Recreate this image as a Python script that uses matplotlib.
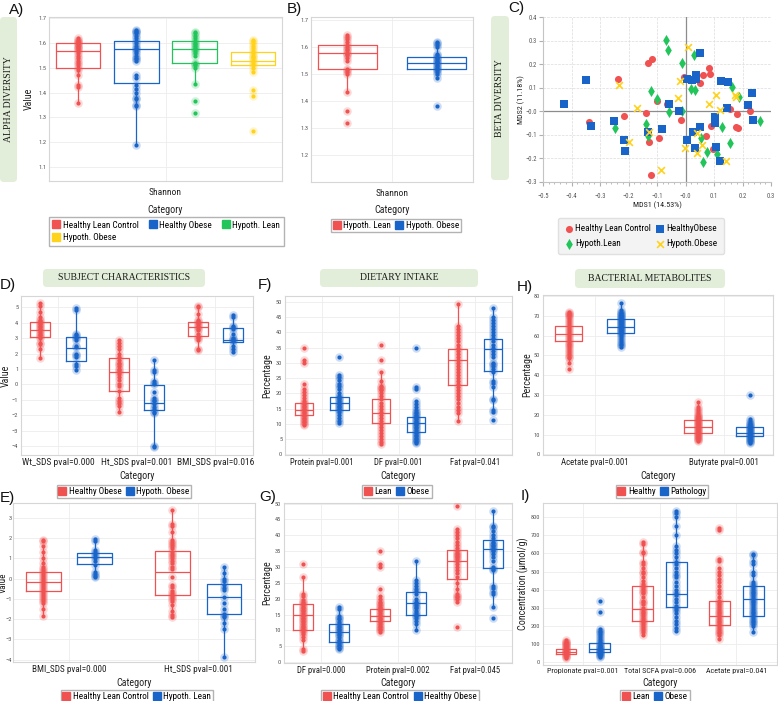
import numpy as np
import matplotlib
matplotlib.use('Agg')
import matplotlib.pyplot as plt
from matplotlib.lines import Line2D
from matplotlib.patches import FancyBboxPatch
from matplotlib.ticker import FuncFormatter, MultipleLocator

W, H = 778, 701
RED = '#f05252'
BLUE = '#1864c8'
GREEN = '#22c55a'
YELLOW = '#ffd21c'
NARROW = ['Roboto Condensed', 'Liberation Sans Narrow', 'Roboto', 'DejaVu Sans']
SERIF = ['Liberation Serif', 'DejaVu Serif']

plt.rcParams['font.family'] = NARROW

# ---------------- data ----------------
# A) alpha diversity, Shannon index
alpha_groups = ['Healthy Lean Control', 'Healthy Obese', 'Hypoth. Lean', 'Hypoth. Obese']
alpha_hlc = [1.62, 1.615, 1.61, 1.605, 1.60, 1.595, 1.59, 1.585, 1.58, 1.575, 1.57, 1.56,
             1.55, 1.54, 1.53, 1.52, 1.51, 1.50, 1.49, 1.47, 1.43, 1.425, 1.36]
alpha_ho = [1.655, 1.65, 1.645, 1.64, 1.63, 1.62, 1.61, 1.60, 1.59, 1.58, 1.575, 1.57, 1.56,
            1.55, 1.54, 1.535, 1.53, 1.47, 1.46, 1.43, 1.415, 1.40, 1.38, 1.375, 1.35, 1.345, 1.19]
alpha_hl = [1.645, 1.64, 1.63, 1.62, 1.61, 1.60, 1.595, 1.59, 1.58, 1.575, 1.57, 1.56, 1.55,
            1.52, 1.515, 1.51, 1.50, 1.435, 1.365, 1.318]
alpha_hob = [1.615, 1.61, 1.60, 1.59, 1.58, 1.57, 1.56, 1.55, 1.545, 1.54, 1.53, 1.52, 1.51,
             1.50, 1.485, 1.41, 1.385, 1.245]
alpha_box = [(1.50, 1.567, 1.60), (1.44, 1.577, 1.61), (1.52, 1.578, 1.607), (1.51, 1.527, 1.565)]

# B) hypothyroid lean vs obese
hyp_groups = ['Hypoth. Lean', 'Hypoth. Obese']
hyp_obese = [1.62, 1.615, 1.61, 1.60, 1.575, 1.57, 1.565, 1.56, 1.555, 1.55, 1.545, 1.54,
             1.535, 1.53, 1.525, 1.52, 1.515, 1.51, 1.50, 1.485, 1.383]
hyp_box = [(1.52, 1.578, 1.607), (1.52, 1.54, 1.565)]

# C) beta diversity (MDS)
hlc_x = [-0.133, -0.119, -0.236, -0.215, -0.338, -0.140, -0.099, -0.066, -0.127, -0.093, -0.122,
         -0.015, -0.007, 0.052, 0.060, 0.081, 0.085, 0.089, 0.071, 0.095, 0.155, 0.180, 0.177,
         0.183, 0.226, 0.031]
hlc_y = [0.204, 0.221, 0.137, -0.020, -0.047, -0.009, 0.045, 0.031, -0.130, -0.113, -0.272,
         -0.035, 0.145, 0.122, 0.154, 0.182, 0.158, -0.061, -0.104, -0.161, 0.009, -0.013, -0.066,
         -0.073, 0.001, 0.137]
ho_x = [-0.427, -0.350, -0.333, -0.251, -0.216, -0.211, -0.133, -0.084, -0.058, -0.022, 0.004,
        0.004, 0.023, 0.037, 0.037, 0.028, 0.034, 0.052, 0.052, 0.104, 0.104, 0.108, 0.121, 0.123,
        0.149, 0.145, 0.219, 0.232, 0.238]
ho_y = [0.029, 0.134, -0.063, -0.042, -0.121, -0.168, -0.087, -0.077, 0.031, 0.002, -0.120,
        0.137, 0.133, 0.136, 0.154, -0.087, -0.154, -0.066, 0.249, -0.023, -0.048, -0.151, -0.212,
        0.130, 0.123, 0.012, 0.026, 0.079, -0.038]
hl_x = [-0.070, -0.062, -0.012, 0.031, -0.121, -0.101, -0.248, -0.140, -0.131, -0.059, -0.014,
        0.020, 0.032, 0.056, 0.077, 0.063, 0.110, 0.128, 0.156, 0.162, 0.186, 0.262]
hl_y = [0.301, 0.261, 0.204, 0.240, 0.087, 0.053, -0.073, -0.052, -0.106, -0.003, 0.001, 0.095,
        0.091, -0.115, -0.172, -0.215, -0.180, -0.066, -0.136, 0.102, 0.062, -0.040]
hob_x = [-0.234, -0.171, -0.199, -0.128, -0.087, -0.026, -0.019, 0.008, -0.001, 0.042, 0.040,
         0.057, 0.083, 0.107, 0.122, 0.143, 0.172, 0.178]
hob_y = [0.110, 0.016, -0.130, -0.087, -0.251, 0.055, 0.129, 0.273, -0.154, -0.094, -0.177,
         -0.144, 0.033, 0.071, 0.005, -0.209, 0.069, 0.062]

# D) subject characteristics, healthy obese vs hypoth. obese
d_cats = ['Wt_SDS pval=0.000', 'Ht_SDS pval=0.001', 'BMI_SDS pval=0.016']
d_groups = ['Healthy Obese', 'Hypoth. Obese']
d_red = [[5.3, 5.1, 4.7, 4.4, 4.2, 4.1, 4.0, 3.9, 3.8, 3.7, 3.6, 3.5, 3.4, 3.3, 3.2, 3.1, 3.0, 2.7, 2.6, 2.3, 1.7],
         [2.85, 2.7, 2.5, 2.3, 2.0, 1.8, 1.6, 1.4, 1.3, 1.2, 1.0, 0.9, 0.8, 0.7, 0.5, 0.3, 0.0, -0.1, -0.4,
          -0.9, -1.1, -1.2, -1.4, -1.8],
         [5.1, 5.0, 4.6, 4.2, 4.1, 4.0, 3.9, 3.8, 3.7, 3.6, 3.5, 3.3, 3.1, 3.0, 2.9, 2.3, 2.25]]
d_blue = [[4.95, 4.85, 3.25, 3.2, 3.1, 3.0, 2.9, 2.5, 2.4, 2.0, 1.9, 1.8, 1.3, 1.2, 0.95],
          [1.6, 0.9, 0.8, 0.2, 0.1, 0.0, -0.5, -0.9, -1.0, -1.1, -1.3, -1.5, -1.6, -1.8, -1.85, -4.0, -4.05],
          [4.5, 4.4, 3.8, 3.7, 3.6, 3.3, 3.0, 2.95, 2.9, 2.8, 2.5, 2.3, 2.1]]
d_box_red = [(3.05, 3.53, 4.03), (-0.43, 0.80, 1.69), (3.16, 3.74, 4.03)]
d_box_blue = [(1.51, 2.34, 3.10), (-1.67, -1.23, -0.04), (2.73, 2.88, 3.64)]

# E) healthy lean control vs hypoth. lean
e_cats = ['BMI_SDS pval=0.000', 'Ht_SDS pval=0.001']
e_groups = ['Healthy Lean Control', 'Hypoth. Lean']
e_red = [[1.9, 1.85, 1.6, 1.3, 1.0, 0.8, 0.6, 0.5, 0.4, 0.3, 0.2, 0.1, 0.0, -0.1, -0.2, -0.3, -0.4,
          -0.5, -0.6, -0.7, -0.8, -0.9, -1.0, -1.1, -1.2, -1.5, -1.85],
         [3.4, 2.7, 2.6, 2.3, 1.9, 1.8, 1.7, 1.6, 1.5, 1.3, 1.2, 1.1, 1.0, 0.9, 0.8, 0.6, 0.5, 0.1, -0.3,
          -0.4, -0.6, -0.7, -0.8, -0.9, -1.0, -1.1, -1.3, -1.6, -1.8, -1.9]]
e_blue = [[1.95, 1.85, 1.4, 1.3, 1.2, 1.1, 1.0, 0.9, 0.7, 0.35, 0.25, 0.15, 0.1],
          [0.6, 0.3, 0.0, -0.1, -0.3, -0.45, -0.55, -0.9, -1.2, -1.5, -1.75, -1.85, -1.9, -2.2, -2.5, -3.85]]
e_box_red = [(-0.61, -0.18, 0.32), (-0.81, 0.32, 1.39)]
e_box_blue = [(0.73, 1.05, 1.29), (-1.75, -0.92, -0.26)]

# F) dietary intake, lean vs obese
f_cats = ['Protein pval=0.001', 'DF pval=0.001', 'Fat pval=0.041']
f_groups = ['Lean', 'Obese']
f_red = [[35, 31, 30, 23.2, 21.5, 20.5, 19.5, 18.5, 17.5, 17, 16.5, 16, 15.5, 15, 14.5, 14, 13.5, 13,
          12.5, 12, 11.5, 11, 10.5, 10, 9.5],
         [36, 31, 27, 24, 22.5, 22, 21.5, 21, 20, 19, 18, 17, 16, 15, 14, 13, 12, 11, 10, 9, 8, 7, 6, 5,
          4, 3.5],
         [49.3, 42, 41, 40, 39, 38, 37, 36, 35, 34, 33, 32, 31, 30, 29, 28, 27, 26, 25, 24, 23, 22, 21,
          20, 19, 18, 17, 15.5, 14.5, 13.5, 11]]
f_blue = [[32, 26, 25.5, 24.5, 23, 22.5, 21.5, 20, 19, 18.5, 18, 17.5, 17, 16.5, 16, 15.5, 15, 14.5,
           14, 13, 12, 11, 10.2],
          [35, 22, 21.5, 17.5, 16.5, 15.5, 14.5, 14, 13.5, 13, 12.5, 12, 11.5, 11, 10.5, 10, 9.5, 9,
           8.5, 8, 7.5, 7, 6.5, 6, 5.5, 5, 4.5, 4, 3.8],
          [48, 45, 44, 43, 42, 41, 40, 39, 38, 37, 36, 35, 34, 33, 32, 30, 29.5, 29, 28, 27, 24, 23.5,
           22, 18.2, 17.8, 14.5, 13.8, 11.2]]
f_box_red = [(12.8, 14.7, 16.7), (10.2, 13.6, 18.0), (22.7, 30.8, 34.5)]
f_box_blue = [(14.5, 17.0, 18.9), (7.4, 10.4, 12.3), (27.3, 34.4, 37.9)]

# G) healthy lean control vs healthy obese
g_cats = ['DF pval=0.000', 'Protein pval=0.002', 'Fat pval=0.045']
g_groups = ['Healthy Lean Control', 'Healthy Obese']
g_red = [[31, 27, 21.5, 21, 19.5, 19, 18.5, 18, 17.5, 17, 16.5, 16, 15.5, 15, 14.5, 14, 13.5, 13,
          12.5, 12, 11.5, 11, 10.5, 10, 9.5, 9, 8, 7, 4, 3.5],
         [35, 31, 30, 23.2, 21, 20, 19, 18.5, 18, 17.5, 17, 16.5, 16, 15.5, 15, 14.5, 14, 13.5, 13,
          12.5, 12, 11.5, 11, 10.5, 10, 9.5],
         [49.3, 42, 41, 40, 39, 38, 37, 36, 35, 34.5, 34, 33.5, 33, 32.5, 32, 31, 30, 29, 28, 27, 25,
          23, 21.5, 21, 20.5, 20, 19, 11]]
g_blue = [[17.5, 16.8, 14.5, 14, 13.5, 12.5, 12, 11.5, 11, 10.5, 10, 9.5, 9, 8.5, 8, 7, 6.5, 6, 5.5,
           5, 4.5, 4.2],
          [32, 26, 25, 24, 23, 22.5, 21.5, 20, 19, 18.5, 18, 17.5, 17, 16, 15.5, 15, 14.5, 14, 13, 12,
           10.2],
          [47.8, 43, 42.5, 41.5, 40, 39, 38, 37.5, 37, 36.5, 36, 35.5, 35, 34, 33, 32, 30, 29.5, 29, 24,
           23.5, 22, 21.5, 17.5, 13.8]]
g_box_red = [(10.2, 14.7, 18.2), (12.9, 14.4, 16.7), (26.1, 32.0, 35.3)]
g_box_blue = [(6.4, 9.6, 11.9), (15.0, 18.6, 22.0), (29.8, 35.8, 38.5)]

# H) bacterial metabolites, healthy vs pathology
h_cats = ['Acetate pval=0.001', 'Butyrate pval=0.001']
h_groups = ['Healthy', 'Pathology']
h_red = [[72, 71.5, 71, 70.5, 70, 69, 68, 67, 66, 65, 64, 63, 62, 61, 60, 59, 58, 57, 56, 55, 54, 53,
          52, 51, 50, 49, 48.5, 46, 43],
         [26.5, 24, 23, 22, 21, 20, 19.5, 19, 18.5, 18, 17.5, 17, 16.5, 16, 15.5, 15, 14.5, 14, 13.5,
          13, 12.5, 12, 11.5, 11, 10.5, 10, 9.5, 9, 8.5, 8, 7.5, 7]]
h_blue = [[76.5, 73, 72, 71.5, 71, 70.5, 70, 69.5, 69, 68.5, 68, 67.5, 67, 66.5, 66, 65.5, 65, 64.5,
           64, 63.5, 63, 62.5, 62, 61.5, 61, 60, 59, 58, 57, 56, 55, 54],
          [29.8, 18, 17, 16, 15.5, 15, 14.5, 14, 13.5, 13, 12.5, 12, 11.5, 11, 10.5, 10, 9.5, 9, 8.5,
           8, 7.5, 7, 6.5, 6]]
h_box_red = [(57.4, 60.6, 65.0), (11.0, 13.8, 17.4)]
h_box_blue = [(61.2, 64.5, 68.4), (9.5, 11.0, 14.0)]

# I) SCFA concentrations, lean vs obese
i_cats = ['Propionate pval=0.001', 'Total SCFA pval=0.006', 'Acetate pval=0.041']
i_groups = ['Lean', 'Obese']
i_red = [[125, 115, 110, 105, 100, 95, 90, 85, 80, 75, 70, 65, 60, 55, 50, 45, 40, 35, 30, 25],
         [665, 650, 610, 600, 550, 540, 520, 500, 490, 470, 450, 430, 420, 410, 400, 390, 380, 360, 340,
          330, 320, 300, 290, 280, 270, 260, 250, 240, 230, 220, 210, 200, 190, 180, 165, 150],
         [740, 730, 570, 560, 520, 500, 480, 460, 440, 420, 400, 380, 360, 340, 330, 320, 310, 300, 290,
          280, 270, 260, 250, 240, 230, 220, 210, 200, 190, 180, 170, 160, 150, 130]]
i_blue = [[340, 275, 185, 175, 165, 155, 145, 135, 125, 115, 105, 95, 90, 85, 80, 75, 70, 65, 60, 55,
           50, 45, 40, 35, 30],
          [835, 820, 800, 750, 700, 640, 620, 600, 580, 550, 540, 520, 500, 480, 470, 440, 420, 400, 380,
           370, 350, 330, 310, 300, 290, 270, 250, 230, 210, 190, 175],
          [595, 590, 560, 540, 500, 480, 440, 430, 420, 410, 400, 390, 380, 370, 360, 350, 340, 330, 320,
           310, 300, 290, 280, 270, 260, 250, 240, 230, 220, 210, 200, 170]]
i_box_red = [(44, 59, 74), (230, 293, 421), (208, 258, 340)]
i_box_blue = [(59, 72, 105), (304, 377, 552), (256, 348, 423)]

# ---------------- figure helpers ----------------
fig = plt.figure(figsize=(W / 100, H / 100), dpi=100)

TICK = 6.4
LEG = 6.6


def axes_at(x0, y0, x1, y1):
    ax = fig.add_axes([x0 / W, 1 - y1 / H, (x1 - x0) / W, (y1 - y0) / H])
    ax.rect_px = (x0, y0, x1, y1)
    return ax


def style(ax):
    for s in ax.spines.values():
        s.set_color('#d6d6d6')
        s.set_linewidth(0.8)
    ax.grid(color='#ececec', lw=0.6)
    ax.set_axisbelow(True)
    ax.tick_params(length=0, labelsize=4.6, labelcolor='#555555')
    ax.tick_params(axis='y', pad=2)


def put_labels(ax, xlabel, xlab_y, ylabel=None, ylab_x=None, size=7.2):
    x0, y0, x1, y1 = ax.rect_px
    ax.set_xlabel(xlabel, fontsize=7.2, color='#222222')
    ax.xaxis.set_label_coords(0.5, -(xlab_y - y1) / (y1 - y0))
    ax.xaxis.label.set_va('center')
    if ylabel:
        ax.set_ylabel(ylabel, fontsize=size, color='#222222')
        ax.yaxis.set_label_coords(-(x0 - ylab_x) / (x1 - x0), 0.5)
        ax.yaxis.label.set_va('center')
        ax.yaxis.label.set_ha('center')


def box_panel(ax, cats, pts, quart, colors, offs, width, pad, tick=TICK):
    for g, color in enumerate(colors):
        stats = []
        for c in range(len(cats)):
            vals = np.asarray(pts[g][c], dtype=float)
            q1, med, q3 = quart[g][c]
            lo, hi = q1 - 1.5 * (q3 - q1), q3 + 1.5 * (q3 - q1)
            inside = vals[(vals >= lo) & (vals <= hi)]
            stats.append({'q1': q1, 'med': med, 'q3': q3, 'fliers': [],
                          'whislo': min(inside.min(), q1), 'whishi': max(inside.max(), q3)})
            xs = np.full(len(vals), c + offs[g])
            ax.scatter(xs, vals, s=38, color=color, alpha=0.22, lw=0, zorder=3)
            ax.scatter(xs, vals, s=9, color=color, lw=0, zorder=4)
        line = {'color': color, 'lw': 0.9}
        ax.bxp(stats, positions=np.arange(len(cats)) + offs[g], widths=width,
               showcaps=False, showfliers=False, boxprops=line, whiskerprops=line,
               medianprops=line, manage_ticks=False, zorder=2)
    ax.set_xticks(np.arange(len(cats)))
    ax.set_xticklabels(cats, fontsize=tick, color='#222222')
    ax.tick_params(axis='x', pad=pad)


def add_legend(labels, colors, cx, top, ncol=2):
    handles = [Line2D([], [], ls='', marker='s', markersize=6.3, color=c) for c in colors]
    leg = fig.legend(handles, labels, loc='upper center', bbox_to_anchor=(cx / W, 1 - top / H),
                     ncol=ncol, fontsize=LEG, frameon=True, fancybox=False, edgecolor='#a0a0a0',
                     handlelength=0.8, handletextpad=0.3, columnspacing=0.5, borderpad=0.22,
                     labelspacing=0.35, borderaxespad=0)
    leg.get_frame().set_linewidth(1.0)
    return leg


def title_box(x0, y0, x1, y1, text, rot=0):
    box = FancyBboxPatch((x0 / 100, (H - y1) / 100), (x1 - x0) / 100, (y1 - y0) / 100,
                         boxstyle='round,pad=0,rounding_size=0.04', transform=fig.dpi_scale_trans,
                         facecolor='#e2eed9', edgecolor='none')
    fig.add_artist(box)
    fig.text((x0 + x1) / 2 / W, 1 - (y0 + y1) / 2 / H, text, rotation=rot, ha='center',
             va='center', family=SERIF, fontsize=7, color='#1a1a1a')


def letter(x, y, text):
    fig.text(x / W, 1 - y / H, text, ha='left', va='center', fontsize=11,
             family=['Liberation Sans', 'DejaVu Sans'], color='#111111')


# ---------------- A ----------------
ax = axes_at(49, 17, 282, 181)
style(ax)
box_panel(ax, ['Shannon'], [[alpha_hlc], [alpha_ho], [alpha_hl], [alpha_hob]],
          [[q] for q in alpha_box], [RED, BLUE, GREEN, YELLOW],
          [-0.375, -0.125, 0.125, 0.375], 0.19, 5, tick=6.8)
ax.set_xlim(-0.5, 0.5)
ax.set_ylim(1.043, 1.706)
ax.set_yticks(np.arange(1.1, 1.71, 0.1))
ax.yaxis.set_major_formatter(FuncFormatter(lambda v, _: f'{v:.1f}'))
put_labels(ax, 'Category', 210, 'Value', 29)
handles = [Line2D([], [], ls='', marker='s', markersize=6.3, color=c)
           for c in [RED, YELLOW, BLUE, GREEN]]
leg = fig.legend(handles, [alpha_groups[0], alpha_groups[3], alpha_groups[1], alpha_groups[2]],
                 loc='upper left', bbox_to_anchor=(49 / W, 1 - 250 / H, 235 / W, 33 / H),
                 mode='expand', ncol=3, fontsize=LEG, fancybox=False, edgecolor='#a0a0a0',
                 handlelength=0.8, handletextpad=0.3, columnspacing=0.3, borderpad=0.4,
                 labelspacing=0.4, borderaxespad=0)
leg.get_frame().set_linewidth(1.0)

# ---------------- B ----------------
ax = axes_at(311, 17, 473, 182)
style(ax)
box_panel(ax, ['Shannon'], [[alpha_hl], [hyp_obese]], [[q] for q in hyp_box],
          [RED, BLUE], [-0.275, 0.275], 0.36, 5, tick=6.8)
ax.set_xlim(-0.5, 0.5)
ax.set_ylim(1.099, 1.713)
ax.set_yticks(np.arange(1.2, 1.71, 0.1))
ax.yaxis.set_major_formatter(FuncFormatter(lambda v, _: f'{v:.1f}'))
put_labels(ax, 'Category', 210)
add_legend(hyp_groups, [RED, BLUE], 396, 219)

# ---------------- C ----------------
ax = axes_at(543, 17, 771, 182)
ax.scatter(hlc_x, hlc_y, marker='o', s=26, color=RED, lw=0, zorder=3, label='Healthy Lean Control')
ax.scatter(hl_x, hl_y, marker='d', s=32, color=GREEN, lw=0, zorder=3, label='Hypoth.Lean')
ax.scatter(ho_x, ho_y, marker='s', s=26, color=BLUE, lw=0, zorder=3, label='HealthyObese')
ax.scatter(hob_x, hob_y, marker='x', s=24, color=YELLOW, lw=1.2, zorder=3, label='Hypoth.Obese')
ax.axhline(0, color='#8c8c8c', lw=0.9, zorder=2)
ax.axvline(0, color='#8c8c8c', lw=0.9, zorder=2)
ax.set_xlim(-0.5, 0.3)
ax.set_ylim(-0.3, 0.4)
ax.xaxis.set_major_locator(MultipleLocator(0.1))
ax.xaxis.set_minor_locator(MultipleLocator(0.02))
ax.yaxis.set_major_locator(MultipleLocator(0.1))
fmt = FuncFormatter(lambda v, _: '\u22120.0' if abs(v) < 1e-9 else f'{v:.1f}'.replace('-', '\u2212'))
ax.xaxis.set_major_formatter(fmt)
ax.yaxis.set_major_formatter(fmt)
ax.grid(ls='--', color='#dcdcdc', lw=0.5)
ax.set_axisbelow(True)
ax.spines['top'].set_visible(False)
ax.spines['right'].set_visible(False)
ax.spines['left'].set_color('#c4c4c4')
ax.spines['bottom'].set_color('#c4c4c4')
ax.tick_params(which='major', length=3, color='#b0b0b0', labelsize=4.7, labelcolor='#555555')
ax.tick_params(which='minor', length=1.5, color='#b0b0b0')
ax.tick_params(axis='x', pad=5)
ax.tick_params(axis='y', pad=1.5)
put_labels(ax, 'MDS1 (14.53%)', 205, 'MDS2 (11.18%)', 521, size=5.8)
ax.xaxis.label.set_fontsize(5.8)
leg = fig.legend(*ax.get_legend_handles_labels(), loc='upper center',
                 bbox_to_anchor=(641 / W, 1 - 218 / H), ncol=2, fontsize=LEG, fancybox=True,
                 facecolor='#f3f3f3', edgecolor='#e0e0e0', framealpha=1, handletextpad=0.2,
                 handlelength=1.0, columnspacing=0.5, borderpad=0.65, labelspacing=0.65,
                 borderaxespad=0)

# ---------------- D ----------------
ax = axes_at(21, 296, 253, 455)
style(ax)
box_panel(ax, d_cats, [d_red, d_blue], [d_box_red, d_box_blue], [RED, BLUE],
          [-0.225, 0.225], 0.255, 2.5, tick=6.8)
ax.set_xlim(-0.47, 2.48)
ax.set_ylim(-4.59, 5.74)
ax.set_yticks(range(-4, 6))
put_labels(ax, 'Category', 476, 'Value', 6)
add_legend(d_groups, [RED, BLUE], 124, 485)

# ---------------- E ----------------
ax = axes_at(13, 503, 255, 662)
style(ax)
ax.tick_params(axis='y', pad=1)
box_panel(ax, e_cats, [e_red, e_blue], [e_box_red, e_box_blue], [RED, BLUE],
          [-0.2, 0.2], 0.27, 2.5, tick=6.6)
ax.set_xlim(-0.434, 1.44)
ax.set_ylim(-4.12, 3.745)
ax.set_yticks(range(-4, 4))
put_labels(ax, 'Category', 683, 'Value', 3.5, size=6.6)
add_legend(e_groups, [RED, BLUE], 137, 690)

# ---------------- F ----------------
ax = axes_at(285, 296, 512, 455)
style(ax)
box_panel(ax, f_cats, [f_red, f_blue], [f_box_red, f_box_blue], [RED, BLUE],
          [-0.23, 0.23], 0.24, 2.5, tick=6.2)
ax.set_xlim(-0.48, 2.48)
ax.set_ylim(-0.2, 51.9)
ax.set_yticks(range(0, 51, 5))
put_labels(ax, 'Category', 476, 'Percentage', 267)
add_legend(f_groups, [RED, BLUE], 397, 485)

# ---------------- G ----------------
ax = axes_at(284, 503, 512, 663)
style(ax)
box_panel(ax, g_cats, [g_red, g_blue], [g_box_red, g_box_blue], [RED, BLUE],
          [-0.23, 0.23], 0.26, 2.5, tick=6.2)
ax.set_xlim(-0.48, 2.48)
ax.set_ylim(-0.3, 50.2)
ax.set_yticks(range(0, 51, 5))
put_labels(ax, 'Category', 683, 'Percentage', 267)
add_legend(g_groups, [RED, BLUE], 400, 690)

# ---------------- H ----------------
ax = axes_at(543, 295, 773, 455)
style(ax)
box_panel(ax, h_cats, [h_red, h_blue], [h_box_red, h_box_blue], [RED, BLUE],
          [-0.2, 0.2], 0.21, 2.5, tick=6.4)
ax.set_xlim(-0.40, 1.38)
ax.set_ylim(-0.3, 80.5)
ax.set_yticks(range(0, 81, 10))
put_labels(ax, 'Category', 476, 'Percentage', 527)
add_legend(h_groups, [RED, BLUE], 662, 485)

# ---------------- I ----------------
ax = axes_at(543, 503, 777, 665)
style(ax)
box_panel(ax, i_cats, [i_red, i_blue], [i_box_red, i_box_blue], [RED, BLUE],
          [-0.22, 0.22], 0.27, 2.5, tick=5.8)
ax.set_xlim(-0.52, 2.53)
ax.set_ylim(-14, 877)
ax.set_yticks(range(0, 801, 100))
put_labels(ax, 'Category', 683, 'Concentration (µmol/g)', 523)
add_legend(i_groups, [RED, BLUE], 655, 690)

# ---------------- titles and letters ----------------
title_box(0, 17, 17, 182, 'ALPHA DIVERSITY', rot=90)
title_box(491, 16, 509, 180, 'BETA DIVERSITY', rot=90)
title_box(43, 269, 205, 287, 'SUBJECT CHARACTERISTICS')
title_box(320, 269, 478, 287, 'DIETARY INTAKE')
title_box(575, 269, 725, 288, 'BACTERIAL METABOLITES')

for x, y, t in [(9, 10, 'A)'), (287, 9, 'B)'), (508, 8, 'C)'), (0, 285, 'D)'), (258, 285, 'F)'),
                (517, 287, 'H)'), (0, 498, 'E)'), (259, 497, 'G)'), (521, 496, 'I)')]:
    letter(x, y, t)

fig.savefig('out.png', dpi=100)
